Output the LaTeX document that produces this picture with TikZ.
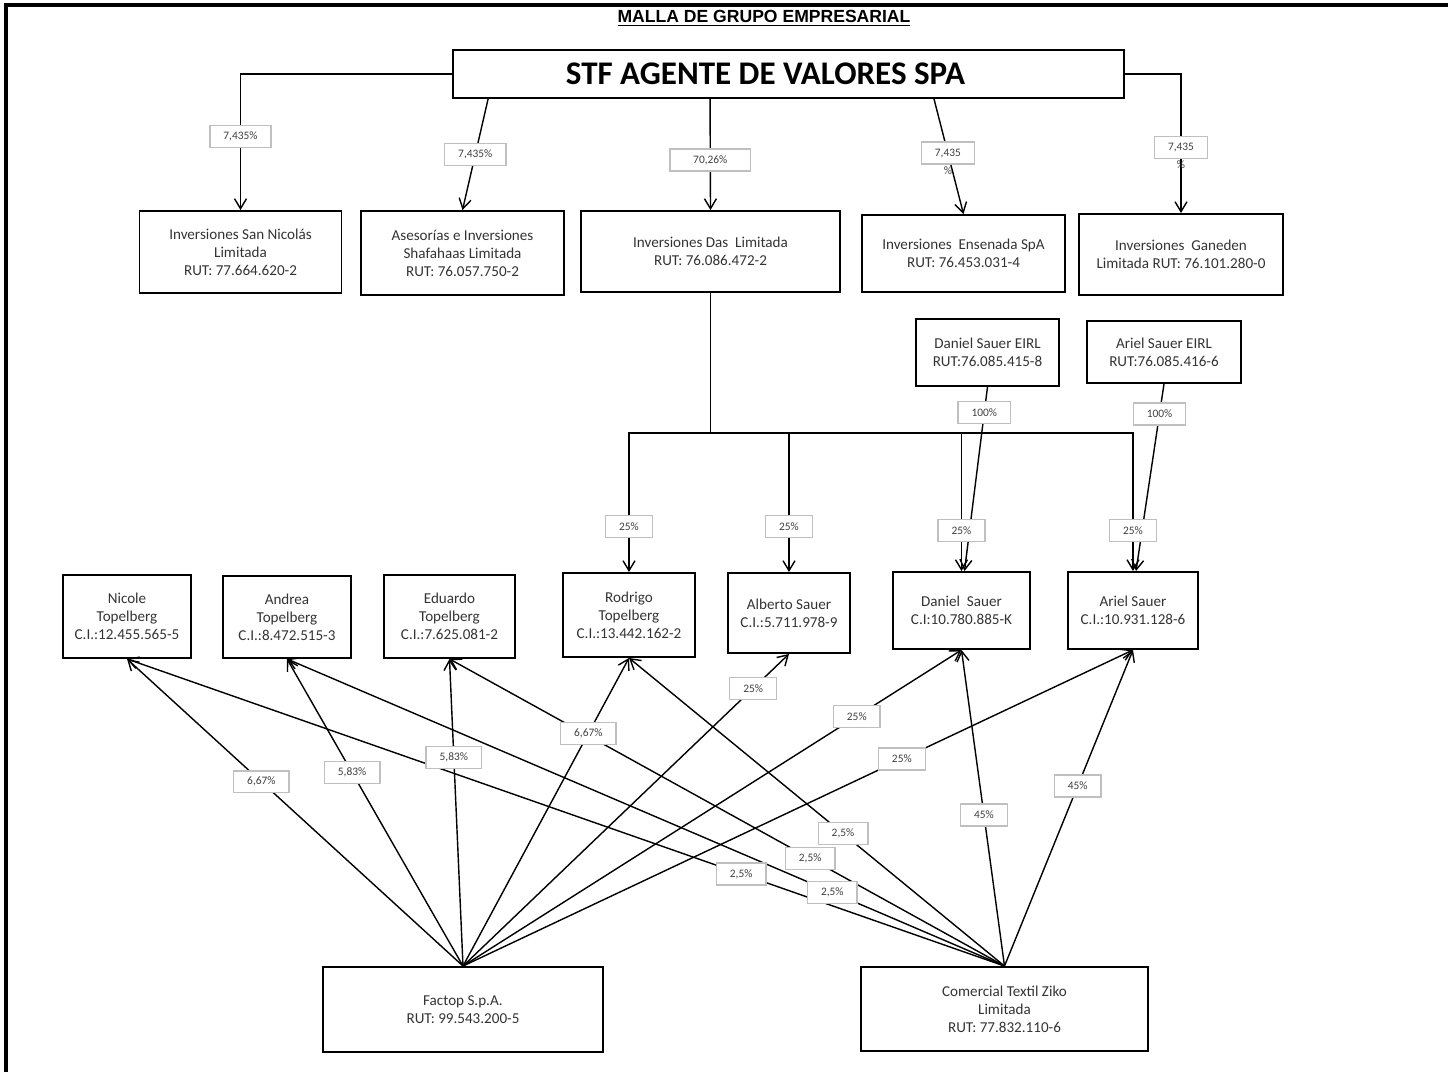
\documentclass[tikz,border=0pt]{standalone}
\usepackage{fontspec}
\setmainfont{Carlito}
\newfontfamily\titlefont{Liberation Sans}
\usetikzlibrary{arrows.meta}

\begin{document}
\begin{tikzpicture}[x=0.02cm, y=-0.02cm,
    ent/.style={draw, line width=1.1pt, align=center, text=black!80,
        font=\fontsize{8.6}{10.3}\selectfont, inner sep=2pt},
    pct/.style={draw=black!25, line width=0.8pt, fill=white, text=black!75,
        font=\fontsize{6.5}{7}\selectfont, inner xsep=0.27cm, inner ysep=0pt,
        minimum height=0.44cm},
    pctmark/.style={font=\fontsize{6.5}{7}\selectfont, text=black!75, inner sep=0.5pt},
    arr/.style={line width=0.8pt, -{Straight Barb[length=2mm,width=2.4mm]}},
    link/.style={line width=1pt}]
\useasboundingbox (0,0) rectangle (1448,1072);
\draw[line width=2.2pt] (6,1072) -- (6,5) -- (1448,5);

\node [font=\titlefont\bfseries\fontsize{10}{12}\selectfont] (title) at (764,18)
    {\underline{MALLA DE GRUPO EMPRESARIAL}};
\node [ent, text=black,
    minimum width=13.42cm,
    minimum height=0.96cm,
    font=\bfseries\fontsize{18.8}{22}\selectfont
    ] (stf) at (788.5,74) {STF AGENTE DE VALORES SPA\hspace{0.92cm}};

\node [ent, minimum width=4.04cm, minimum height=1.64cm] (sannicolas) at (240.5,252)
    {Inversiones San Nicolás\\Limitada\\RUT: 77.664.620-2};
\node [ent, minimum width=4.06cm, minimum height=1.68cm] (shafahaas) at (462.5,253)
    {Asesorías e Inversiones\\Shafahaas Limitada\\RUT: 76.057.750-2};
\node [ent, minimum width=5.18cm, minimum height=1.62cm] (das) at (710.5,251.5)
    {Inversiones Das\ \ Limitada\\RUT: 76.086.472-2};
\node [ent, minimum width=4.06cm, minimum height=1.54cm] (ensenada) at (963.5,253.5)
    {Inversiones\ \ Ensenada SpA\\RUT: 76.453.031-4};
\node [ent, minimum width=4.08cm, minimum height=1.62cm] (ganeden) at (1181,254.5)
    {Inversiones\ \ Ganeden\\Limitada RUT: 76.101.280-0};

\node [ent, minimum width=2.86cm, minimum height=1.34cm] (danieleirl) at (987.5,352.5)
    {Daniel Sauer EIRL\\RUT:76.085.415-8};
\node [ent, minimum width=3.08cm, minimum height=1.24cm] (arieleirl) at (1164,352)
    {Ariel Sauer EIRL\\RUT:76.085.416-6};

\node [ent, minimum width=2.56cm, minimum height=1.66cm] (nicole) at (127,616.5)
    {Nicole\\Topelberg\\C.I.:12.455.565-5};
\node [ent, minimum width=2.56cm, minimum height=1.64cm] (andrea) at (287,617)
    {Andrea\\Topelberg\\C.I.:8.472.515-3};
\node [ent, minimum width=2.62cm, minimum height=1.66cm] (eduardo) at (449.5,616.5)
    {Eduardo\\Topelberg\\C.I.:7.625.081-2};
\node [ent, minimum width=2.64cm, minimum height=1.68cm] (rodrigo) at (629,615)
    {Rodrigo\\Topelberg\\C.I.:13.442.162-2};
\node [ent, minimum width=2.44cm, minimum height=1.6cm] (alberto) at (789,613)
    {Alberto Sauer\\C.I.:5.711.978-9};
\node [ent, minimum width=2.74cm, minimum height=1.54cm] (daniel) at (961.5,610.5)
    {Daniel\ \ Sauer\\C.I:10.780.885-K};
\node [ent, minimum width=2.6cm, minimum height=1.54cm] (ariel) at (1133,610.5)
    {Ariel Sauer\\C.I.:10.931.128-6};

\node [ent, minimum width=5.6cm, minimum height=1.7cm] (factop) at (463,1009.5)
    {Factop S.p.A.\\RUT: 99.543.200-5};
\node [ent, minimum width=5.74cm, minimum height=1.68cm] (ziko) at (1004.5,1009)
    {Comercial Textil Ziko\\Limitada\\RUT: 77.832.110-6};

\draw[arr] (stf.west) -| (sannicolas.north)
    node[pct, pos=0.73] {7,435\%};
\draw[arr] ([xshift=0.72cm]stf.south west) -- (shafahaas.north)
    node[pct, pos=0.5] {7,435\%};
\draw[arr] ([xshift=5.16cm]stf.south west) -- (das.north)
    node[pct, pos=0.55, minimum width=1.62cm] {70,26\%};
\draw[arr] ([xshift=9.64cm]stf.south west) -- (ensenada.north)
    node[pct, pos=0.47, label={[pctmark]below:\%}] {7,435};
\draw[arr] (stf.east) -| (ganeden.north)
    node[pct, pos=0.765, label={[pctmark]below:\%}] {7,435};

\draw[arr] (danieleirl.south) -- ([xshift=0.06cm]daniel.north)
    node[pct, pos=0.14] {100\%};
\draw[arr] (arieleirl.south) -- ([xshift=0.06cm]ariel.north)
    node[pct, pos=0.16] {100\%};

\draw[link] (das.south) -- ++(0,140) coordinate (bus);
\draw[arr] (bus) -| (rodrigo.north) node[pct, pos=0.837] {25\%};
\draw[arr] (bus) -| (alberto.north) node[pct, pos=0.837] {25\%};
\draw[arr] (bus) -| (daniel.north) node[pct, pos=0.854] {25\%};
\draw[arr] (bus) -| (ariel.north) node[pct, pos=0.854] {25\%};

\def\fanlinks{factop/nicole/0.6/{6,67\%}, factop/andrea/0.63/{5,83\%},
    factop/eduardo/0.68/{5,83\%}, factop/rodrigo/0.755/{6,67\%},
    factop/alberto/0.89/{25\%}, factop/daniel/0.79/{25\%},
    factop/ariel/0.655/{25\%}, ziko/nicole/0.30/{2,5\%},
    ziko/andrea/0.24/{2,5\%}, ziko/eduardo/0.35/{2,5\%},
    ziko/rodrigo/0.43/{2,5\%}, ziko/daniel/0.478/{45\%},
    ziko/ariel/0.57/{45\%}}
\foreach \src/\dst/\ps/\lbl in \fanlinks
    \draw[arr] (\src.north) -- (\dst.south);
\foreach \src/\dst/\ps/\lbl in \fanlinks
    \path (\src.north) -- (\dst.south) node[pct, pos=\ps] {\lbl};
\end{tikzpicture}
\end{document}
